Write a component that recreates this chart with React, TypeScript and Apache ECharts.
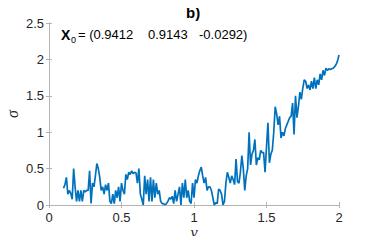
import React, { useEffect, useRef } from "react";
import * as echarts from "echarts";

const nuStart = 0.1;
const nuStep = 0.01;
const sigma = [
  0.23, 0.28, 0.38, 0.15, 0.2, 0.16, 0.08, 0.5, 0.25, 0.05,
  0.2, 0.05, 0.2, 0.05, 0.2, 0.18, 0.2, 0.2, 0.47, 0.02,
  0.3, 0.25, 0.4, 0.57, 0.5, 0.38, 0.2, 0.25, 0.15, 0.28,
  0.2, 0.3, 0.05, 0.02, 0.15, 0.02, 0.2, 0.1, 0.25, 0.05,
  0.3, 0.2, 0.15, 0.42, 0.35, 0.45, 0.42, 0.47, 0.43, 0.45,
  0.44, 0.3, 0.5, 0.15, 0.08, 0.0, 0.4, 0.15, 0.35, 0.05,
  0.38, 0.05, 0.35, 0.1, 0.3, 0.15, 0.2, 0.05, 0.02, 0.02,
  0.0, 0.02, 0.05, 0.1, 0.08, 0.12, 0.02, 0.2, 0.05, 0.15,
  0.25, 0.0, 0.3, 0.1, 0.35, 0.1, 0.2, 0.05, 0.02, 0.3,
  0.1, 0.35, 0.3, 0.4, 0.47, 0.52, 0.4, 0.3, 0.38, 0.2,
  0.25, 0.25, 0.2, 0.1, 0.0, 0.03, 0.02, 0.22, 0.2, 0.15,
  0.0, 0.05, 0.3, 0.45, 0.38, 0.3, 0.4, 0.35, 0.28, 0.63,
  0.32, 0.3, 0.45, 0.68, 0.5, 0.2, 0.4, 0.5, 1.0, 0.55,
  0.7, 0.75, 0.9, 0.55, 0.65, 0.62, 0.75, 0.72, 0.72, 0.45,
  0.8, 1.13, 0.58, 0.7, 0.75, 1.0, 1.35, 1.25, 1.1, 1.22,
  0.92, 1.0, 0.95, 1.05, 1.1, 1.15, 1.2, 1.22, 1.4, 0.97,
  1.5, 1.2, 1.35, 1.55, 1.45, 1.6, 1.72, 1.7, 1.6, 1.65,
  1.58, 1.7, 1.6, 1.75, 1.6, 1.72, 1.65, 1.8, 1.72, 1.85,
  1.78, 1.88, 1.85, 1.87, 1.86, 1.87, 1.88, 1.9, 1.93, 1.98,
  2.06,
];
const xTicks = [0, 0.5, 1, 1.5, 2];
const yTicks = [0, 0.5, 1, 1.5, 2, 2.5];
const x0Values = ["0.9412", "0.9143", "-0.0292"];

const GRID = { left: 49, right: 35, top: 23, bottom: 39 };
const AXIS_LINE = "#b4b4b4";
const TEXT = "#262626";

export default function App() {
  const ref = useRef<HTMLDivElement>(null);
  useEffect(() => {
    if (!ref.current) return;
    const chart = echarts.init(ref.current, undefined, { renderer: "svg" });
    const data = sigma.map((s, i) => [+(nuStart + i * nuStep).toFixed(2), s]);
    const fmt = (v: number) => String(v);
    const common = {
      axisLine: { show: true, lineStyle: { color: AXIS_LINE, width: 1 } },
      axisTick: { show: true, inside: true, length: 3, lineStyle: { color: AXIS_LINE } },
      splitLine: { show: false },
    };
    chart.setOption({
      animation: false,
      grid: { ...GRID, containLabel: false, outerBoundsMode: "none" },
      xAxis: [
        {
          type: "value",
          min: 0,
          max: 2,
          interval: 0.5,
          ...common,
          axisLabel: {
            color: TEXT,
            fontFamily: "Liberation Sans",
            fontSize: 13,
            margin: 6,
            formatter: (v: number) => (xTicks.includes(v) ? fmt(v) : ""),
          },
          name: "ν",
          nameLocation: "middle",
          nameGap: 19,
          nameMoveOverlap: false,
          nameTextStyle: {
            fontFamily: "Liberation Serif",
            fontStyle: "italic",
            fontSize: 16,
            color: TEXT,
          },
        },
        {
          type: "value",
          position: "top",
          min: 0,
          max: 2,
          interval: 0.5,
          ...common,
          axisLabel: { show: false },
        },
      ],
      yAxis: [
        {
          type: "value",
          min: 0,
          max: 2.5,
          interval: 0.5,
          ...common,
          axisLabel: {
            color: TEXT,
            fontFamily: "Liberation Sans",
            fontSize: 13,
            margin: 5,
            formatter: (v: number) => (yTicks.includes(v) ? fmt(v) : ""),
          },
          name: "σ",
          nameLocation: "middle",
          nameGap: 29,
          nameRotate: 90,
          nameMoveOverlap: false,
          nameTextStyle: {
            fontFamily: "Liberation Serif",
            fontStyle: "italic",
            fontSize: 16,
            color: TEXT,
          },
        },
        {
          type: "value",
          position: "right",
          min: 0,
          max: 2.5,
          interval: 0.5,
          ...common,
          axisLabel: { show: false },
        },
      ],
      graphic: [
        {
          type: "text",
          left: 186,
          top: 5,
          style: {
            text: "b)",
            fill: "#000",
            font: "bold 15px 'Liberation Sans'",
          },
        },
        {
          type: "text",
          left: 61,
          top: 28,
          style: {
            text: "X",
            fill: "#000",
            font: "bold 14px 'Liberation Sans'",
          },
        },
        {
          type: "text",
          left: 71,
          top: 35,
          style: {
            text: "0",
            fill: "#000",
            font: "9px 'Liberation Sans'",
          },
        },
        {
          type: "text",
          left: 78,
          top: 28,
          style: {
            text: "= (" + x0Values[0],
            fill: "#000",
            font: "13px 'Liberation Sans'",
          },
        },
        {
          type: "text",
          left: 148,
          top: 28,
          style: {
            text: x0Values[1],
            fill: "#000",
            font: "13px 'Liberation Sans'",
          },
        },
        {
          type: "text",
          left: 199,
          top: 28,
          style: {
            text: x0Values[2] + ")",
            fill: "#000",
            font: "13px 'Liberation Sans'",
          },
        },
      ],
      series: [
        {
          type: "line",
          data,
          xAxisIndex: 0,
          yAxisIndex: 0,
          showSymbol: false,
          symbol: "none",
          lineStyle: { color: "#0072BD", width: 1.7 },
        },
      ],
    });
    return () => chart.dispose();
  }, []);
  return <div ref={ref} style={{ width: 374, height: 244, margin: -8 }} />;
}
